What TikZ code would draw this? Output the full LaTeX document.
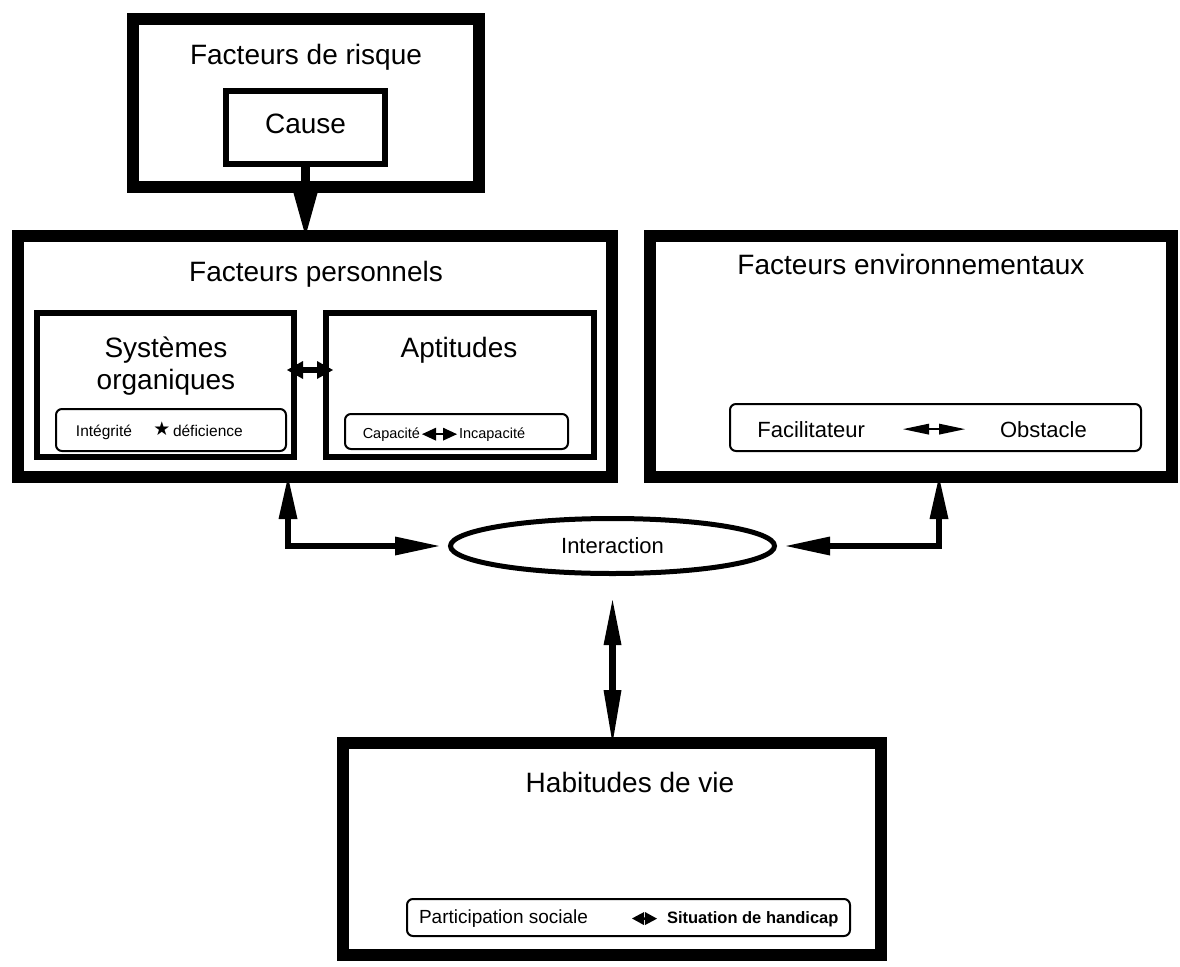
\documentclass[tikz,border=0pt]{standalone}
\usepackage{fontspec}
\setmainfont{Liberation Sans}
\newfontfamily\symfont{DejaVu Sans}
\usetikzlibrary{arrows.meta,shapes.geometric}
\begin{document}
\begin{tikzpicture}[x=1pt,y=-1pt,
  every node/.style={inner sep=0pt, outer sep=0pt},
  heavybox/.style={draw, line width=12pt, rectangle},
  midbox/.style={draw, line width=6pt, rectangle},
  pill/.style={draw, line width=2pt, rectangle, rounded corners=6pt},
  title/.style={anchor=base, font=\fontsize{28}{33}\selectfont},
  tinytxt/.style={font=\fontsize{15.5}{18}\selectfont},
  captxt/.style={font=\fontsize{14.5}{17}\selectfont},
  factxt/.style={font=\fontsize{22}{26}\selectfont},
  parttxt/.style={font=\fontsize{19}{23}\selectfont},
  bigarr/.style={line width=9pt, -{Triangle[length=43pt,width=24pt,line width=0pt]}},
  linkarr/.style={line width=6pt, {Triangle[length=42pt,width=19pt,line width=0pt]}-{Triangle[length=44pt,width=19pt,line width=0pt]}},
  midarr/.style={line width=6.5pt, {Triangle[length=45pt,width=18pt,line width=0pt]}-{Triangle[length=53pt,width=18pt,line width=0pt]}},
  tinyarr/.style={line width=6pt, {Triangle[length=16pt,width=18pt,line width=0pt]}-{Triangle[length=16pt,width=18pt,line width=0pt]}},
  txtarr/.style args={#1/#2}{line width=2.5pt, {Triangle[length=#1,width=#2,line width=0pt]}-{Triangle[length=#1,width=#2,line width=0pt]}}
]
\fill[white] (0,0) rectangle (1180,966);
\useasboundingbox (0,0) rectangle (1180,966);

% Facteurs de risque
\node[heavybox, minimum width=346pt, minimum height=168pt] (fr) at (306,103) {};
\node[title] (frt) at (306,65) {Facteurs de risque};
\node[midbox, minimum width=159pt, minimum height=73pt, text height=20pt, text depth=8pt,
      font=\fontsize{28}{33}\selectfont] (cause) at (305.5,127.5) {Cause};

% Facteurs personnels
\node[heavybox, minimum width=594pt, minimum height=241pt] (fp) at (315,356.5) {};
\node[title] (fpt) at (316,281) {Facteurs personnels};
\node[midbox, minimum width=257pt, minimum height=144pt] (sys) at (165.5,385) {};
\node[title] (syst1) at (166,357) {Systèmes};
\node[title] (syst2) at (166,389) {organiques};
\node[midbox, minimum width=268pt, minimum height=144pt] (apt) at (460,385) {};
\node[title] (aptt) at (459,357) {Aptitudes};
\node[pill, minimum width=230pt, minimum height=42pt] (integ) at (171,430) {};
\node[tinytxt, anchor=base east] (intA) at (132,436) {Intégrité};
\node[anchor=base, font=\symfont\fontsize{19}{22}\selectfont] (intS) at (162,435) {★};
\node[tinytxt, anchor=base west] (intB) at (173,436) {déficience};
\node[pill, minimum width=223pt, minimum height=35pt] (capa) at (456.5,431.5) {};
\node[captxt, anchor=base east] (capA) at (420,438) {Capacité};
\node[captxt, anchor=base west] (capB) at (459,438) {Incapacité};
\draw[txtarr=14pt/13pt, shorten <=2pt, shorten >=2pt] (capA.east) -- (capB.west);

% Facteurs environnementaux
\node[heavybox, minimum width=522pt, minimum height=241pt] (env) at (911,356.5) {};
\node[title] (envt) at (911,274) {Facteurs environnementaux};
\node[pill, minimum width=411pt, minimum height=47pt] (facil) at (935.5,427.5) {};
\node[factxt, anchor=base east] (facA) at (865,437) {Facilitateur};
\node[factxt, anchor=base west] (facB) at (1000,437) {Obstacle};
\draw[txtarr=26pt/11pt, shorten <=38pt, shorten >=35pt] (facA.east) -- (facB.west);

% Interaction
\node[draw, ellipse, line width=5pt, minimum width=324pt, minimum height=55pt,
      font=\fontsize{22}{26}\selectfont] (inter) at (612.5,546) {Interaction};

% Habitudes de vie
\node[heavybox, minimum width=538pt, minimum height=212pt] (hab) at (612,849) {};
\node[title] (habt) at (630,792) {Habitudes de vie};
\node[pill, minimum width=443pt, minimum height=37pt] (part) at (628.5,917.5) {};
\node[parttxt, anchor=base east] (partA) at (588,923) {Participation sociale};
\node[anchor=base west, font=\fontsize{16.5}{20}\selectfont\bfseries] (partB) at (667,923) {Situation de handicap};
\draw[txtarr=12pt/13pt, shorten <=44pt, shorten >=10pt] (partA.east) -- (partB.west);

% connectors
\coordinate (lc) at (288,0);
\coordinate (rc) at (939,0);
\draw[bigarr] (cause.south) -- (cause.south |- fp.north);
\draw[tinyarr, shorten <=-7pt, shorten >=-7pt] ([yshift=15pt]sys.east) -- ([yshift=15pt]apt.west);
\draw[linkarr, shorten >=11.5pt] (fp.south -| lc) |- (inter.west);
\draw[linkarr, shorten >=11.5pt] (env.south -| rc) |- (inter.east);
\draw[midarr, shorten <=26.5pt] (inter.south) -- (inter.south |- hab.north);
\end{tikzpicture}
\end{document}
